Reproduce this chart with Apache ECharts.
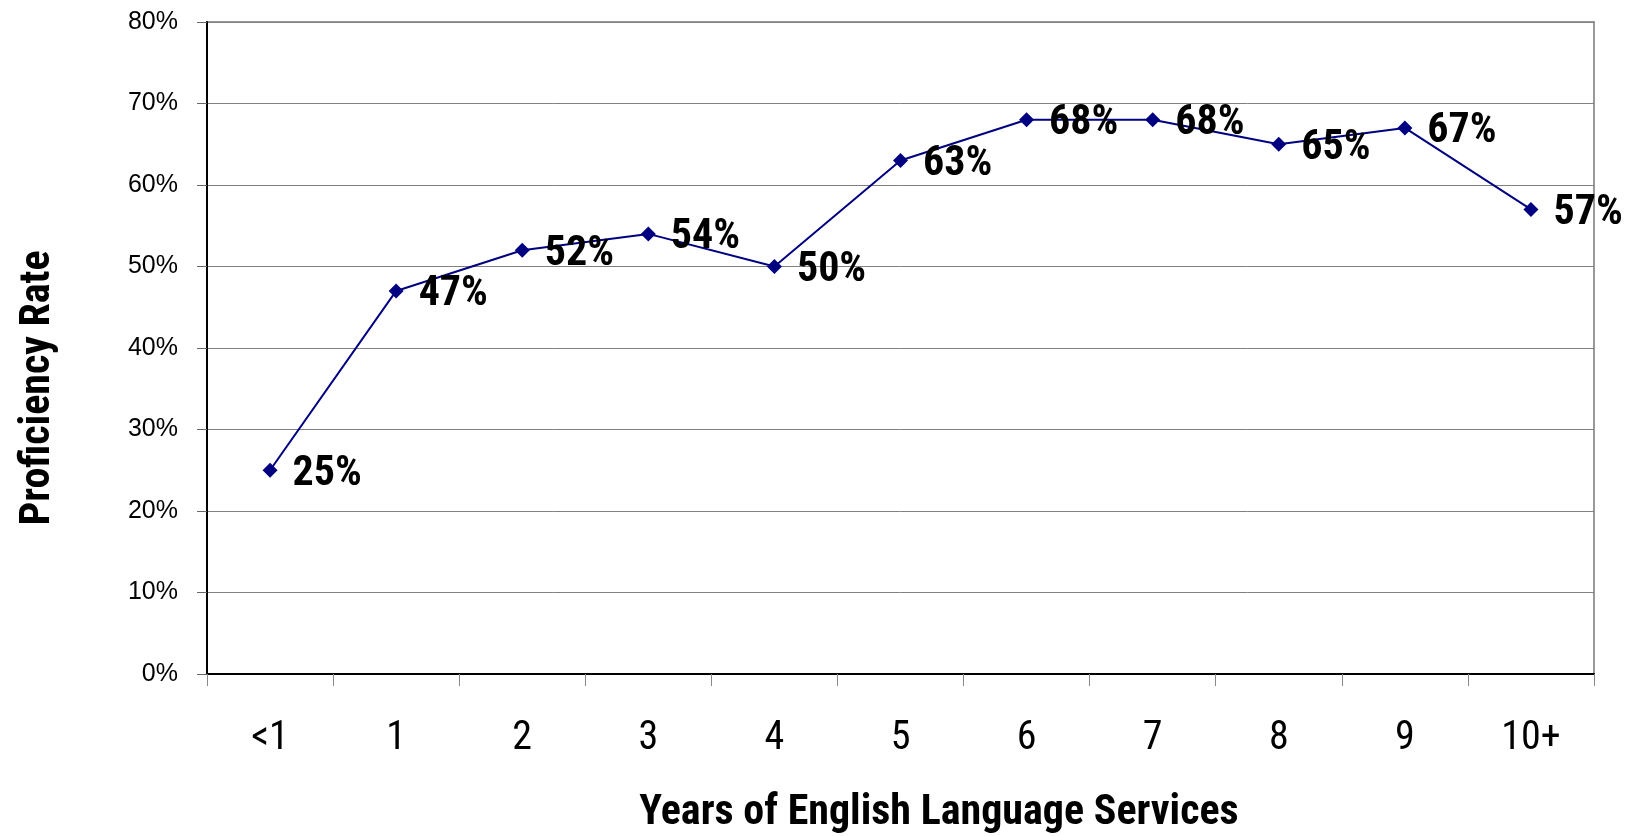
<!DOCTYPE html>
<html><head><meta charset="utf-8">
<script src="https://cdn.jsdelivr.net/npm/echarts@6/dist/echarts.min.js"></script>
<style>html,body{margin:0;padding:0;background:#fff}#c{width:1633px;height:836px}</style>
</head><body><div id="c"></div>
<script>
var categories = ['<1','1','2','3','4','5','6','7','8','9','10+'];
var rates = [25,47,52,54,50,63,68,68,65,67,57];
var yTicks = [0,10,20,30,40,50,60,70,80];
var xTitle = 'Years of English Language Services';
var yTitle = 'Proficiency Rate';

var NARROW = '"Roboto Condensed","Open Sans Condensed","Liberation Sans",sans-serif';
var chart = echarts.init(document.getElementById('c'), null, {renderer:'canvas'});
chart.setOption({
  animation:false,
  backgroundColor:'#fff',
  grid:{left:207, top:22, right:39, bottom:162, show:true, borderColor:'#999', borderWidth:2},
  xAxis:{type:'category', data:categories, boundaryGap:true,
    axisLine:{lineStyle:{color:'#000', width:2}},
    axisTick:{show:true, length:12, lineStyle:{color:'#888', width:1}},
    axisLabel:{margin:45, fontFamily:NARROW, fontSize:40, color:'#000'}
  },
  yAxis:{type:'value', min:yTicks[0], max:yTicks[yTicks.length-1], interval:10,
    axisLine:{show:true, lineStyle:{color:'#000', width:2}},
    axisTick:{show:true, length:10, lineStyle:{color:'#666', width:1}},
    splitLine:{show:true, lineStyle:{color:'#808080', width:1}},
    axisLabel:{margin:29, fontFamily:'"Liberation Sans",Arial,sans-serif', fontSize:25, color:'#000', formatter:'{value}%'}
  },
  series:[{type:'line', data:rates, symbol:'diamond', symbolSize:15,
    lineStyle:{color:'#000080', width:2}, itemStyle:{color:'#000080'},
    label:{show:true, position:'right', distance:15, formatter:'{c}%',
      fontFamily:NARROW, fontWeight:'bold', fontSize:42, color:'#000', offset:[0,4]}
  }],
  graphic:[
    {type:'text', x:939, y:813, style:{text:xTitle, fontFamily:NARROW, fontWeight:'bold', fontSize:42, fill:'#000', align:'center', verticalAlign:'middle'}},
    {type:'text', x:38, y:388, rotation:Math.PI/2, style:{text:yTitle, fontFamily:NARROW, fontWeight:'bold', fontSize:42, fill:'#000', align:'center', verticalAlign:'middle'}}
  ]
});
</script></body></html>
